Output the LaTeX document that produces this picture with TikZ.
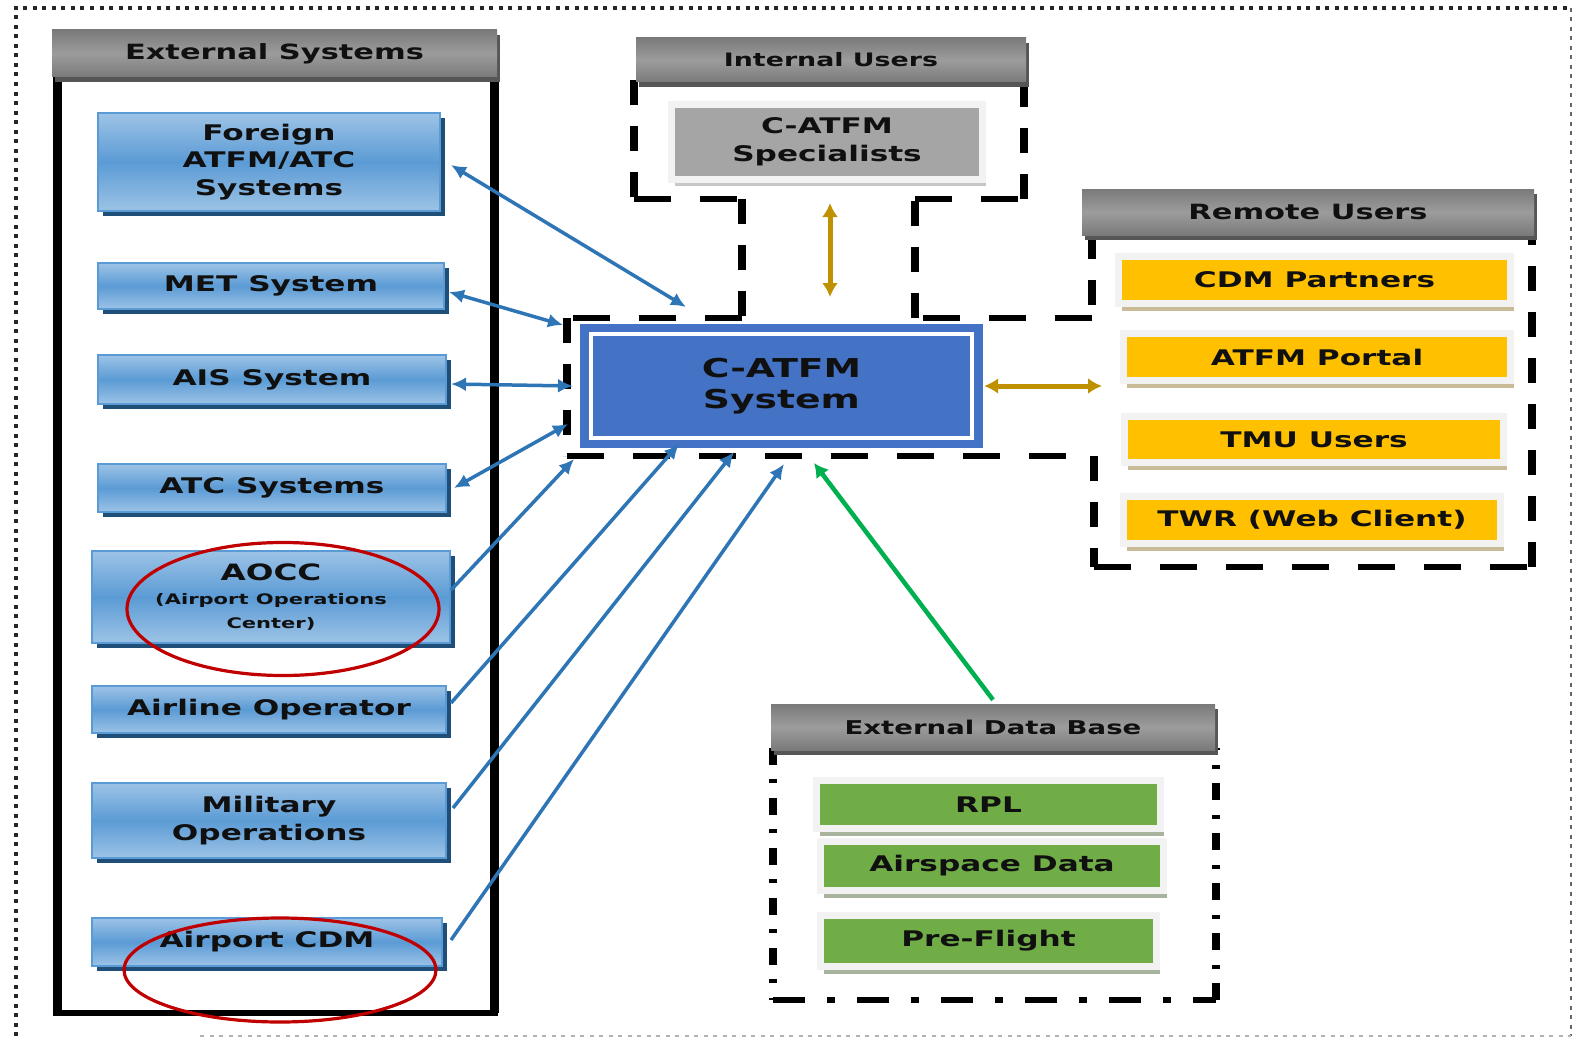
\documentclass[tikz,border=0pt]{standalone}
\usepackage{fontspec}
\setmainfont{DejaVu Sans}
\newfontfamily\lab[FakeStretch=1.45]{DejaVu Sans}
\usetikzlibrary{arrows.meta,shapes.geometric,shadows}
\definecolor{hdrA}{HTML}{7A7A7A}
\definecolor{hdrB}{HTML}{9C9C9C}
\definecolor{hdrS}{HTML}{565656}
\definecolor{blueL}{HTML}{9DC3E6}
\definecolor{blueM}{HTML}{5B9BD5}
\definecolor{blueS}{HTML}{1F4E79}
\definecolor{sysblue}{HTML}{4472C4}
\definecolor{arrblue}{HTML}{2E75B6}
\definecolor{goldarr}{HTML}{BF9000}
\definecolor{ygold}{HTML}{FFC000}
\definecolor{tanS}{HTML}{C9BB97}
\definecolor{grn}{HTML}{70AD47}
\definecolor{grnS}{HTML}{A8B39E}
\definecolor{greenarr}{HTML}{00B050}
\definecolor{specgray}{HTML}{A5A5A5}
\definecolor{specS}{HTML}{C8C8C8}
\definecolor{lightb}{HTML}{F2F2F2}
\definecolor{ellred}{HTML}{C00000}
\definecolor{txt}{HTML}{101010}
\tikzset{
  hdr/.style={rectangle, inner sep=0pt, top color=hdrA, bottom color=hdrA, middle color=hdrB,
    text=txt, font=\lab\bfseries\fontsize{#1}{#1}\selectfont,
    drop shadow={fill=hdrS, opacity=1, shadow xshift=3pt, shadow yshift=-5pt}},
  blubox/.style={rectangle, inner sep=0pt, align=center, draw=blueM, line width=2pt,
    top color=blueL, bottom color=blueL, middle color=blueM, text=txt,
    font=\lab\bfseries\fontsize{21.5}{27.5}\selectfont,
    drop shadow={fill=blueS, opacity=1, shadow xshift=5pt, shadow yshift=-5pt}},
  ybox/.style={rectangle, inner sep=0pt, fill=ygold, draw=lightb, line width=7pt, text=txt,
    font=\lab\bfseries\fontsize{21.5}{26}\selectfont,
    drop shadow={fill=tanS, opacity=1, shadow xshift=3pt, shadow yshift=-7pt}},
  gbox/.style={rectangle, inner sep=0pt, fill=grn, draw=lightb, line width=7pt, text=txt,
    font=\lab\bfseries\fontsize{21.5}{26}\selectfont,
    drop shadow={fill=grnS, opacity=1, shadow xshift=3pt, shadow yshift=-7pt}},
  sbox/.style={rectangle, inner sep=0pt, align=center, fill=specgray, draw=lightb, line width=7pt, text=txt,
    font=\lab\bfseries\fontsize{21.5}{28}\selectfont,
    drop shadow={fill=specS, opacity=1, shadow xshift=3pt, shadow yshift=-6pt}},
  redring/.style={ellipse, draw=ellred, line width=3.2pt, inner sep=0pt},
  framedot/.style={draw=black!85, line width=3.5pt, dash pattern=on 4pt off 5.5pt},
  framefaint/.style={draw=black!30, line width=2pt, dash pattern=on 4pt off 5.5pt},
  hd/.style={draw=black, line width=6pt, dash pattern=on 37pt off 29pt},
  vd/.style={draw=black, line width=8pt, dash pattern=on 25pt off 21pt},
  hdd/.style={draw=black, line width=6pt, dash pattern=on 32pt off 22pt on 8pt off 22pt},
  vdd/.style={draw=black, line width=8pt, dash pattern=on 17pt off 14pt on 4pt off 15pt},
  tipA/.tip={Latex[length=15pt,width=14pt]},
  tipG/.tip={Latex[length=14pt,width=16pt]},
  barrow/.style={draw=arrblue, line width=3.5pt, -tipA},
  bboth/.style={draw=arrblue, line width=3.5pt, tipA-tipA},
  goldboth/.style={draw=goldarr, line width=5pt, tipG-tipG},
  grnarrow/.style={draw=greenarr, line width=4.5pt, -tipG},
}
\begin{document}
\begin{tikzpicture}[x=1pt,y=-1pt]
\useasboundingbox (0,0) rectangle (1574,1038);
\fill[white] (0,0) rectangle (1574,1038);
% outer dotted frame
\draw[framedot] (16,1036) -- (16,8) -- (1571,8);
\draw[framedot, draw=black!60, line width=2.5pt] (1571,8) -- (1571,1036);
\draw[framefaint] (200,1036) -- (1571,1036);
% external systems panel body
\draw[line width=9pt, black] (57,72) -- (57,1013);
\draw[line width=9pt, black] (494,72) -- (494,1013);
\draw[line width=6pt, black] (53,1013) -- (498,1013);
% dashed outline around internal users, system and remote users
\draw[vd] (634,80) -- (634,199);
\draw[hd] (634,199) -- (742,199);
\draw[vd] (742,199) -- (742,318);
\draw[hd] (742,318) -- (567,318);
\draw[vd] (567,318) -- (567,456);
\draw[hd] (567,456) -- (1094,456);
\draw[vd] (1094,456) -- (1094,567);
\draw[hd] (1094,567) -- (1532,567);
\draw[vd] (1532,567) -- (1532,234);
\draw[vd] (1092,234) -- (1092,318);
\draw[hd] (1092,318) -- (915,318);
\draw[vd] (915,318) -- (915,199);
\draw[hd] (915,199) -- (1024,199);
\draw[vd] (1024,199) -- (1024,80);
% external data base dash-dot outline
\draw[vdd] (773,748) -- (773,1000);
\draw[hdd] (773,1000) -- (1216,1000);
\draw[vdd] (1216,1000) -- (1216,748);

% headers
\node[hdr=21, minimum width=445, minimum height=47] (exthdr) at (274.5,53.5) {External Systems};
\node[hdr=18.5, minimum width=390, minimum height=44] (inthdr) at (831,60) {Internal Users};
\node[hdr=21, minimum width=452, minimum height=46] (remhdr) at (1308,212) {Remote Users};
\node[hdr=19, minimum width=444, minimum height=46] (edbhdr) at (993,727) {External Data Base};

% external systems
\node[blubox, minimum width=342, minimum height=98] (foreign) at (269,162) {Foreign\\ATFM/ATC\\Systems};
\node[blubox, minimum width=346, minimum height=46] (met) at (271,286) {MET System};
\node[blubox, minimum width=348, minimum height=49] (ais) at (272,379.5) {AIS System};
\node[blubox, minimum width=348, minimum height=48] (atc) at (272,488) {ATC Systems};
\node[blubox, minimum width=358, minimum height=92] (aocc) at (271,597)
  {{\fontsize{22.5}{22}\selectfont AOCC}\\[-3pt]{\fontsize{14.5}{18}\selectfont (Airport Operations}\\[-4pt]{\fontsize{14.5}{18}\selectfont Center)}};
\node[blubox, minimum width=354, minimum height=47] (airline) at (269,709.5) {Airline Operator};
\node[blubox, minimum width=354, minimum height=75] (military) at (269,820.5) {Military\\Operations};
\node[blubox, minimum width=350, minimum height=48] (cdm) at (267,942) {Airport CDM};

% red ellipses
\node[redring, minimum width=312, minimum height=133] (ring1) at (283,609) {};
\node[redring, minimum width=312, minimum height=104] (ring2) at (280,970) {};

% internal users
\node[sbox, minimum width=311, minimum height=75] (spec) at (827,142) {C-ATFM\\Specialists};

% central system
\node[rectangle, fill=sysblue, minimum width=403, minimum height=124, inner sep=0pt, align=center,
  text=txt, font=\lab\bfseries\fontsize{26}{31}\selectfont] (sys) at (781.5,386) {C-ATFM\\System};
\draw[white, line width=3.5pt] ([shift={(11pt,-10pt)}]sys.north west) rectangle ([shift={(-11pt,10pt)}]sys.south east);

% remote users
\node[ybox, minimum width=392, minimum height=47] (cdmp) at (1314.5,280) {CDM Partners};
\node[ybox, minimum width=387, minimum height=47] (portal) at (1317,357) {ATFM Portal};
\node[ybox, minimum width=379, minimum height=46] (tmu) at (1314,439.5) {TMU Users};
\node[ybox, minimum width=377, minimum height=47] (twr) at (1312,520) {TWR (Web Client)};

% external data base
\node[gbox, minimum width=344, minimum height=48] (rpl) at (988.5,804.5) {RPL};
\node[gbox, minimum width=343, minimum height=49] (airsp) at (992,866) {Airspace Data};
\node[gbox, minimum width=336, minimum height=51] (prefl) at (988.5,941) {Pre-Flight};

% connector end points near the system
\coordinate (eForeign) at (686,307);
\coordinate (eMet) at (563,325);
\coordinate (eAis) at (573,386);
\coordinate (eAtc) at (568,424);
\coordinate (eAocc) at (574,459);
\coordinate (eAirline) at (679,444);
\coordinate (eMil) at (734,452);
\coordinate (eCdm) at (784,464);
\coordinate (gTop) at (830,203);
\coordinate (gBot) at (830,297);
\coordinate (gRight) at (1102,386);
\coordinate (eGreen) at (814,463);

% connectors
\draw[bboth] ([shift={(10pt,-3pt)}]foreign.east) -- (eForeign);
\draw[bboth] ([shift={(4pt,-6pt)}]met.east) -- (eMet);
\draw[bboth] ([shift={(4pt,-4.5pt)}]ais.east) -- (eAis);
\draw[bboth] ([shift={(7pt,0pt)}]atc.east) -- (eAtc);
\draw[barrow] ([shift={(0pt,7pt)}]aocc.east) -- (eAocc);
\draw[barrow] ([shift={(4pt,6.5pt)}]airline.east) -- (eAirline);
\draw[barrow] ([shift={(6pt,12.5pt)}]military.east) -- (eMil);
\draw[barrow] ([shift={(8pt,2pt)}]cdm.east) -- (eCdm);
\draw[goldboth] (gTop) -- (gBot);
\draw[goldboth] ([xshift=1pt]sys.east) -- (gRight);
\draw[grnarrow] ([yshift=4pt]edbhdr.north) -- (eGreen);
\end{tikzpicture}
\end{document}
